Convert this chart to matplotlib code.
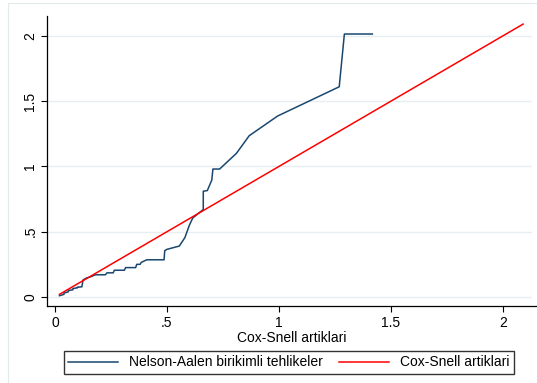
import matplotlib
matplotlib.use("Agg")
from matplotlib import pyplot as plt
from matplotlib.patches import Rectangle

plt.rcParams['font.family'] = ['Liberation Sans', 'DejaVu Sans']

# Nelson-Aalen cumulative hazard of the Cox-Snell residuals
na_x = [0.02, 0.04, 0.04, 0.06, 0.06, 0.08, 0.08, 0.10, 0.10, 0.12, 0.125,
        0.14, 0.16, 0.18, 0.225, 0.232, 0.26, 0.265, 0.31, 0.315, 0.36,
        0.365, 0.38, 0.385, 0.41, 0.487, 0.49, 0.50, 0.555, 0.58, 0.60,
        0.615, 0.662, 0.662, 0.68, 0.70, 0.705, 0.735, 0.81, 0.867, 0.994,
        1.269, 1.292, 1.417]
na_y = [0.01, 0.02, 0.03, 0.04, 0.05, 0.055, 0.065, 0.07, 0.075, 0.078, 0.13,
        0.145, 0.155, 0.17, 0.17, 0.185, 0.185, 0.205, 0.205, 0.225, 0.225,
        0.25, 0.25, 0.265, 0.285, 0.285, 0.355, 0.365, 0.39, 0.455, 0.55,
        0.605, 0.67, 0.81, 0.815, 0.895, 0.98, 0.98, 1.10, 1.235, 1.386,
        1.61, 2.014, 2.014]

# reference line y = x
cs_x = [0.02, 2.09]
cs_y = [0.02, 2.09]

xticks = [0, 0.5, 1, 1.5, 2]
xticklabels = ['0', '.5', '1', '1.5', '2']
yticks = [0, 0.5, 1, 1.5, 2]
yticklabels = ['0', '.5', '1', '1.5', '2']

W, H = 537, 383
fig = plt.figure(figsize=(W / 100, H / 100), dpi=100)
fig.patch.set_facecolor('white')

# faint graph region outline
fig.add_artist(Rectangle((8 / W, -0.1), 1.2, 1 - 2.5 / H + 0.1,
                         transform=fig.transFigure, fill=False,
                         edgecolor='#e3eaec', lw=0.8))

ax = fig.add_axes([47 / W, 1 - 306 / H, 1 - 47 / W, (306 - 16) / H])
ax.set_xlim(-0.0357, 2.152)
ax.set_ylim(-0.069, 2.152)

for yv in yticks:
    ax.plot([-0.0357, 2.125], [yv, yv], color='#e6eef0', lw=1.0, zorder=1)

ax.plot(na_x, na_y, color='#1a476f', lw=1.1, zorder=3,
        label='Nelson-Aalen birikimli tehlikeler')
ax.plot(cs_x, cs_y, color='#ff0000', lw=1.1, zorder=3,
        label='Cox-Snell artiklari')

for s in ['top', 'right']:
    ax.spines[s].set_visible(False)
for s in ['left', 'bottom']:
    ax.spines[s].set_linewidth(0.9)
    ax.spines[s].set_color('#000000')

ax.set_xticks(xticks)
ax.set_xticklabels(xticklabels)
ax.set_yticks(yticks)
ax.set_yticklabels(yticklabels, rotation=90, va='center')
ax.tick_params(axis='both', direction='out', length=4, width=0.8,
               labelsize=10, pad=3)
ax.set_xlabel('Cox-Snell artiklari', fontsize=10, labelpad=1)

fig.legend(loc='center', ncol=2, mode='expand',
           bbox_to_anchor=(64 / W, 1 - 375 / H, 450 / W, 25 / H),
           fontsize=10, frameon=True, fancybox=False, edgecolor='black',
           handlelength=3.6, borderaxespad=0, borderpad=0.3,
           columnspacing=1.0)

fig.savefig('out.png', dpi=100)
